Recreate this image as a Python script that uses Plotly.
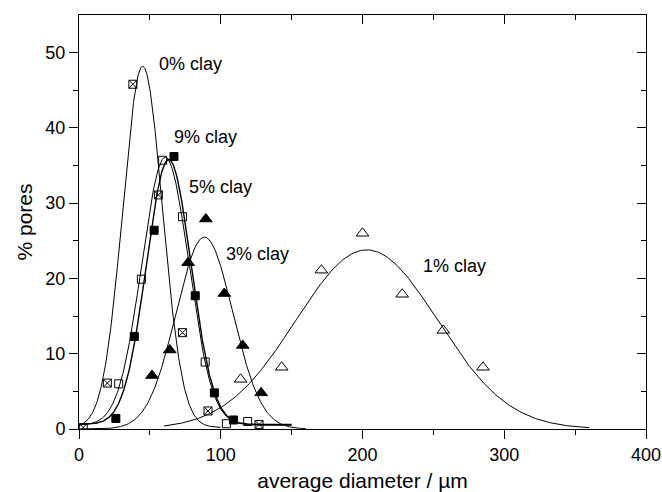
import numpy as np
import plotly.graph_objects as go

x_clay0 = [3, 20, 38, 56, 73, 91, 127]
y_clay0 = [0.2, 6.1, 45.8, 31.1, 12.8, 2.4, 0.6]

x_clay5 = [28, 44, 59, 73, 89, 104, 119]
y_clay5 = [6.0, 19.9, 35.7, 28.2, 8.9, 0.7, 1.0]

x_clay9 = [26, 39, 53, 67, 82, 95.5, 109]
y_clay9 = [1.4, 12.3, 26.4, 36.2, 17.7, 4.8, 1.2]

x_clay3 = [51.5, 64, 77, 89.5, 102.5, 115.5, 128.5]
y_clay3 = [7.1, 10.5, 22.1, 27.9, 18.0, 11.1, 4.8]

x_clay1 = [114, 143, 171, 200, 228, 257, 285]
y_clay1 = [6.6, 8.2, 21.1, 26.0, 17.9, 13.1, 8.2]

# ---- Gaussian fit parameters ----
fit_names = ["0% clay", "5% clay", "9% clay", "3% clay", "1% clay"]
fit_center = [44.9, 60.9, 63.3, 88.5, 203.0]
fit_sigma = [14.0, 16.5, 15.7, 20.0, 50.0]
fit_amp = [48.0, 35.6, 35.2, 25.5, 23.8]
fit_offset = [0.2, 0.5, 0.6, 0.0, 0.0]
fit_xmin = [0, 0, 0, 0, 60]
fit_xmax = [100, 150, 150, 160, 360]
fit_width = [1, 1, 1.4, 1, 1]

# labels
label_text = ["0% clay", "9% clay", "5% clay", "3% clay", "1% clay"]
label_x = [55.3, 65.6, 76.2, 102.5, 241.3]
label_y = [48.5, 38.8, 32.2, 23.2, 21.6]

FONT = "Liberation Sans, Arial, sans-serif"

fig = go.Figure()

for c, s, a, o, x0, x1, w in zip(fit_center, fit_sigma, fit_amp, fit_offset,
                                 fit_xmin, fit_xmax, fit_width):
    xs = np.linspace(x0, x1, 300)
    ys = o + a * np.exp(-((xs - c) ** 2) / (2 * s ** 2))
    fig.add_trace(go.Scatter(x=xs, y=ys, mode="lines",
                             line=dict(color="black", width=w),
                             showlegend=False, hoverinfo="skip"))

def pts(x, y, symbol, size):
    fig.add_trace(go.Scatter(
        x=x, y=y, mode="markers", showlegend=False,
        marker=dict(symbol=symbol, size=size, color="black",
                    line=dict(color="black", width=1))))

pts(x_clay0, y_clay0, "square-x-open", 8)
pts(x_clay5, y_clay5, "square-open", 8)
pts(x_clay9, y_clay9, "square", 8)
pts(x_clay3, y_clay3, "triangle-up", 11)
pts(x_clay1, y_clay1, "triangle-up-open", 11)

# dummy trace for mirrored axes (top/right, inside ticks)
fig.add_trace(go.Scatter(x=[None], y=[None], xaxis="x2", yaxis="y2",
                         showlegend=False, hoverinfo="skip"))

for t, lx, ly in zip(label_text, label_x, label_y):
    fig.add_annotation(x=lx, y=ly, text=t, showarrow=False,
                       xanchor="left", yanchor="middle",
                       font=dict(family=FONT, size=18, color="black"))

common = dict(showgrid=False, zeroline=False, showline=True,
              linecolor="black", linewidth=1, tickcolor="black",
              tickwidth=1, ticklen=9, automargin=False,
              tickfont=dict(family=FONT, size=18, color="black"))
common_nf = {k: v for k, v in common.items() if k != "tickfont"}

fig.update_layout(
    width=662, height=492,
    margin=dict(l=79, r=16, t=15, b=63),
    paper_bgcolor="white", plot_bgcolor="white",
    xaxis=dict(range=[0, 400], tickvals=[0, 100, 200, 300, 400],
               ticks="outside",
               minor=dict(tickvals=[50, 150, 250, 350], ticklen=5,
                          ticks="outside", tickcolor="black"),
               title=dict(text="average diameter / µm", standoff=17,
                          font=dict(family=FONT, size=21, color="black")),
               **common),
    yaxis=dict(range=[0, 55], tickvals=[0, 10, 20, 30, 40, 50],
               ticks="outside",
               minor=dict(tickvals=[5, 15, 25, 35, 45], ticklen=5,
                          ticks="outside", tickcolor="black"),
               title=dict(text="% pores", standoff=7,
                          font=dict(family=FONT, size=21, color="black")),
               **common),
    xaxis2=dict(range=[0, 400], overlaying="x", side="top",
                tickvals=[0, 100, 200, 300, 400], ticks="inside",
                showticklabels=False,
                minor=dict(tickvals=[50, 150, 250, 350], ticklen=5,
                           ticks="inside", tickcolor="black"),
                **common_nf),
    yaxis2=dict(range=[0, 55], overlaying="y", side="right",
                tickvals=[0, 10, 20, 30, 40, 50], ticks="inside",
                showticklabels=False,
                minor=dict(tickvals=[5, 15, 25, 35, 45], ticklen=5,
                           ticks="inside", tickcolor="black"),
                **common_nf),
)

fig.write_html(
    "out.html",
    config={"displayModeBar": False},
    post_script="document.body.style.margin='0';"
                "document.body.style.overflow='hidden';",
)
